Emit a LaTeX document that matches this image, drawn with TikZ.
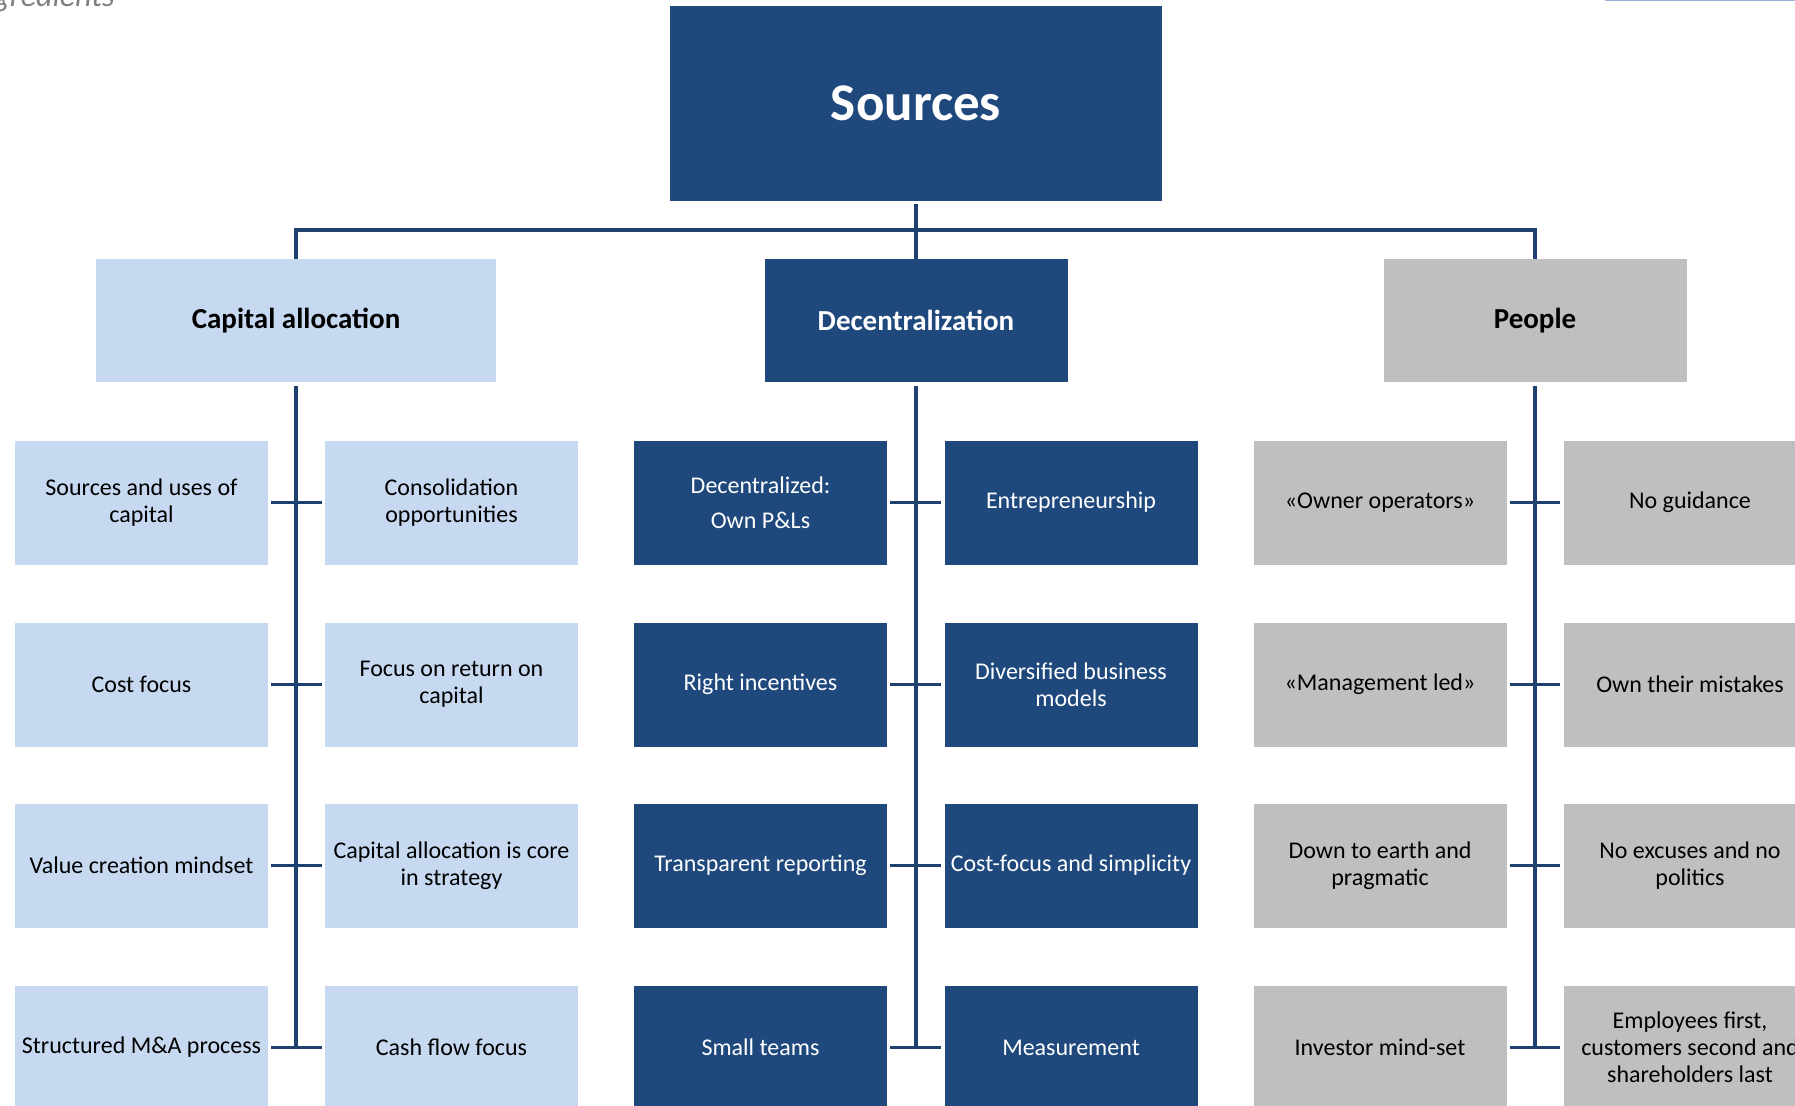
\documentclass[tikz,border=0pt]{standalone}
\usepackage{fontspec}
\setmainfont{Carlito}
\usepackage{tikz}

\definecolor{darkblue}{HTML}{1F497D}
\definecolor{lightblue}{HTML}{C6D9F1}
\definecolor{boxgray}{HTML}{BFBFBF}
\definecolor{linkblue}{HTML}{1F416F}
\definecolor{titlegray}{HTML}{808080}
\definecolor{ruleblue}{HTML}{95B3D7}

\begin{document}
\begin{tikzpicture}[x=1pt, y=-1pt,
		box_style/.style={rectangle,inner sep=0pt,align=center,minimum width=253pt,minimum height=124pt,font=\fontsize{24}{27}\selectfont},
		cap_style/.style={box_style,fill=lightblue,text=black},
		dec_style/.style={box_style,fill=darkblue,text=white},
		ppl_style/.style={box_style,fill=boxgray,text=black},
		head_style/.style={rectangle,inner sep=0pt,minimum width=303pt,minimum height=123pt,font=\fontsize{29}{34}\selectfont\bfseries},
		edge_style/.style={draw=linkblue,line width=3.2pt,shorten <=3pt,shorten >=3pt}]
		
		\clip (0,0) rectangle (1795,1105);
		
		\node[anchor=base east,text=titlegray,font=\fontsize{32}{38}\selectfont\itshape] (title) at (118,7) {Ingredients};
		\draw[draw=ruleblue,line width=2pt] (1605,0) -- (1795,0);
		
		\node[head_style,fill=darkblue,text=white,minimum width=492pt,minimum height=195pt,font=\fontsize{53}{60}\selectfont\bfseries] (src) at (916,103.5) {Sources};
		\node[head_style,fill=lightblue,minimum width=400pt] (cap) at (296,320.5) {Capital allocation};
		\node[head_style,fill=darkblue,text=white] (dec) at (916,320.5) {Decentralization};
		\node[head_style,fill=boxgray] (ppl) at (1535,320.5) {People};
		
		\node[cap_style] (ca1) at (141.5,502.5)  {Sources and uses of\\capital};
		\node[cap_style] (ca2) at (451.5,502.5)  {Consolidation\\opportunities};
		\node[cap_style] (ca3) at (141.5,684.5)  {Cost focus};
		\node[cap_style] (ca4) at (451.5,684.5)  {Focus on return on\\capital};
		\node[cap_style] (ca5) at (141.5,865.5)  {Value creation mindset};
		\node[cap_style] (ca6) at (451.5,865.5)  {Capital allocation is core\\in strategy};
		\node[cap_style] (ca7) at (141.5,1047.5) {Structured M\&A process};
		\node[cap_style] (ca8) at (451.5,1047.5) {Cash flow focus};
		
		\node[dec_style] (de1) at (760.5,502.5)  {Decentralized:\\[8pt]Own P\&Ls};
		\node[dec_style] (de2) at (1071,502.5)   {Entrepreneurship};
		\node[dec_style] (de3) at (760.5,684.5)  {Right incentives};
		\node[dec_style] (de4) at (1071,684.5)   {Diversified business\\models};
		\node[dec_style] (de5) at (760.5,865.5)  {Transparent reporting};
		\node[dec_style] (de6) at (1071,865.5)   {Cost-focus and simplicity};
		\node[dec_style] (de7) at (760.5,1047.5) {Small teams};
		\node[dec_style] (de8) at (1071,1047.5)  {Measurement};
		
		\node[ppl_style] (pe1) at (1380,502.5)  {«Owner operators»};
		\node[ppl_style] (pe2) at (1690,502.5)  {No guidance};
		\node[ppl_style] (pe3) at (1380,684.5)  {«Management led»};
		\node[ppl_style] (pe4) at (1690,684.5)  {Own their mistakes};
		\node[ppl_style] (pe5) at (1380,865.5)  {Down to earth and\\pragmatic};
		\node[ppl_style] (pe6) at (1690,865.5)  {No excuses and no\\politics};
		\node[ppl_style] (pe7) at (1380,1047.5) {Investor mind-set};
		\node[ppl_style] (pe8) at (1690,1047.5) {Employees first,\\customers second and\\shareholders last};
		
		\coordinate (bus) at (916,230);
		\coordinate (capend) at (296,1047.5);
		\coordinate (decend) at (916,1047.5);
		\coordinate (pplend) at (1535,1047.5);
		
		\draw[edge_style,shorten >=0pt]  (src) -- (dec);
		\draw[edge_style,shorten <=0pt,shorten >=0pt]  (cap) |- (bus) -| (ppl);
		\draw[edge_style,shorten <=4pt,shorten >=0pt]  (cap) -- (capend);
		\draw[edge_style,shorten <=4pt,shorten >=0pt]  (dec) -- (decend);
		\draw[edge_style,shorten <=4pt,shorten >=0pt]  (ppl) -- (pplend);
		
		\draw[edge_style]  (ca1) edge (ca2);
		\draw[edge_style]  (ca3) edge (ca4);
		\draw[edge_style]  (ca5) edge (ca6);
		\draw[edge_style]  (ca7) edge (ca8);
		\draw[edge_style]  (de1) edge (de2);
		\draw[edge_style]  (de3) edge (de4);
		\draw[edge_style]  (de5) edge (de6);
		\draw[edge_style]  (de7) edge (de8);
		\draw[edge_style]  (pe1) edge (pe2);
		\draw[edge_style]  (pe3) edge (pe4);
		\draw[edge_style]  (pe5) edge (pe6);
		\draw[edge_style]  (pe7) edge (pe8);
		
\end{tikzpicture}
\end{document}
